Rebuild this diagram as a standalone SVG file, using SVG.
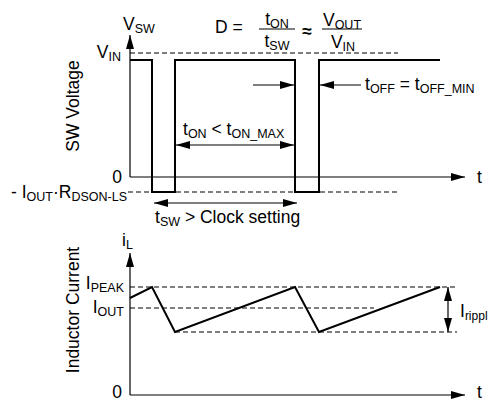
<svg xmlns="http://www.w3.org/2000/svg" width="489" height="403" viewBox="0 0 489 403">
<style>
text{font-family:"Liberation Sans",Arial,sans-serif;font-size:17.5px;fill:#000}
.s{font-size:12.5px}
.ax{stroke:#000;stroke-width:1.2;fill:none}
.dash{stroke:#000;stroke-width:1.2;stroke-dasharray:5,3;fill:none}
.wave{stroke:#000;stroke-width:2;fill:none;stroke-linejoin:miter}
.arr{stroke:#000;stroke-width:1.2;fill:none}
</style>
<defs>
<marker id="ah" viewBox="0 0 14 8" refX="14" refY="4" markerWidth="14" markerHeight="8" markerUnits="userSpaceOnUse" orient="auto-start-reverse"><path d="M0,0 L14,4 L0,8 z" fill="#000"/></marker>
</defs>
<rect width="489" height="403" fill="#fff"/>

<g id="top-axes">
<line class="ax" x1="130" y1="177" x2="130" y2="35" marker-end="url(#ah)"/>
<line class="ax" x1="130" y1="177" x2="465" y2="177" marker-end="url(#ah)"/>
<line class="dash" x1="130" y1="53" x2="398" y2="53"/>
<line class="dash" x1="128" y1="192" x2="398" y2="192"/>
</g>

<g id="sw-waveform">
<path class="wave" d="M130,60 H152 V192 H175 V60 H295 V192 H319 V60 H440"/>
</g>

<g id="top-labels">
<text x="123" y="30">V<tspan class="s" dy="3">SW</tspan></text>
<text x="121" y="58" text-anchor="end">V<tspan class="s" dy="3">IN</tspan></text>
<text x="122" y="183" text-anchor="end">0</text>
<text x="127" y="198" text-anchor="end">- I<tspan class="s" dy="3">OUT</tspan><tspan dy="-3">·</tspan>R<tspan class="s" dy="3">DSON-LS</tspan></text>
<text x="477" y="183">t</text>
<text transform="translate(79,106) rotate(-90)" text-anchor="middle">SW Voltage</text>
<text x="215" y="33">D =</text>
<text x="277" y="25" text-anchor="middle">t<tspan class="s" dy="3">ON</tspan></text>
<line x1="259" y1="29" x2="295" y2="29" stroke="#000" stroke-width="1.2"/>
<text x="277" y="47" text-anchor="middle">t<tspan class="s" dy="3">SW</tspan></text>
<text x="307" y="37" text-anchor="middle" font-weight="bold">≈</text>
<text x="342" y="26" text-anchor="middle">V<tspan class="s" dy="3">OUT</tspan></text>
<line x1="322" y1="29" x2="362" y2="29" stroke="#000" stroke-width="1.2"/>
<text x="343" y="48" text-anchor="middle">V<tspan class="s" dy="3">IN</tspan></text>
<text x="183" y="135">t<tspan class="s" dy="3">ON</tspan><tspan dy="-3"> &lt; t</tspan><tspan class="s" dy="3">ON_MAX</tspan></text>
<text x="365" y="90">t<tspan class="s" dy="3">OFF</tspan><tspan dy="-3"> = t</tspan><tspan class="s" dy="3">OFF_MIN</tspan></text>
<text x="155" y="223">t<tspan class="s" dy="3">SW</tspan><tspan dy="-3"> &gt; Clock setting</tspan></text>
</g>

<g id="connectors">
<line class="arr" x1="176" y1="145" x2="294" y2="145" marker-start="url(#ah)" marker-end="url(#ah)"/>
<line class="arr" x1="253" y1="85" x2="294" y2="85" marker-end="url(#ah)"/>
<line class="arr" x1="361" y1="85" x2="320" y2="85" marker-end="url(#ah)"/>
<line class="arr" x1="154" y1="203" x2="297" y2="203" marker-start="url(#ah)" marker-end="url(#ah)"/>
<line class="arr" x1="448" y1="287" x2="448" y2="332" marker-start="url(#ah)" marker-end="url(#ah)"/>
</g>

<g id="bottom-axes">
<line class="ax" x1="130" y1="395" x2="130" y2="253" marker-end="url(#ah)"/>
<line class="ax" x1="130" y1="395" x2="465" y2="395" marker-end="url(#ah)"/>
<line class="dash" x1="130" y1="287" x2="456" y2="287"/>
<line class="dash" x1="130" y1="308" x2="374" y2="308"/>
<line class="dash" x1="175" y1="332" x2="457" y2="332"/>
</g>

<g id="current-waveform">
<path class="wave" d="M130,298 L152,287 L175,332 L295,287 L319,332 L440,287"/>
</g>

<g id="bottom-labels">
<text x="122" y="246">i<tspan class="s" dy="3">L</tspan></text>
<text x="124" y="289" text-anchor="end">I<tspan class="s" dy="3">PEAK</tspan></text>
<text x="124" y="313" text-anchor="end">I<tspan class="s" dy="3">OUT</tspan></text>
<text x="460" y="317">I<tspan font-size="12px" dy="3">rippl</tspan></text>
<text x="122" y="398" text-anchor="end">0</text>
<text x="477" y="398">t</text>
<text transform="translate(79,310) rotate(-90)" text-anchor="middle">Inductor Current</text>
</g>
</svg>
